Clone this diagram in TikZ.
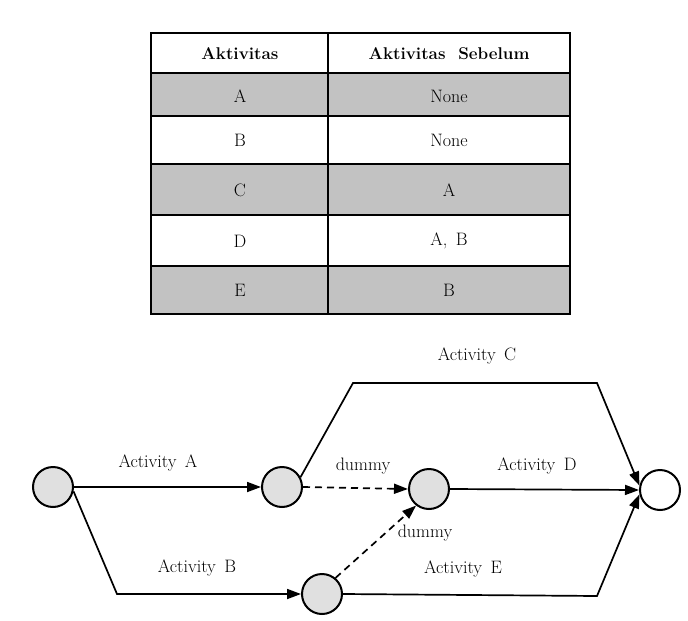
\documentclass[tikz,border=0pt]{standalone}
\usetikzlibrary{arrows.meta}
\begin{document}
\begin{tikzpicture}[x=1pt,y=-1pt,
  txt/.style={font=\fontsize{18}{21}\selectfont},
  hdr/.style={font=\fontsize{17}{20}\selectfont\bfseries},
  event/.style={circle,draw,line width=2pt,minimum size=40pt,inner sep=0pt,fill=black!12},
  lastevent/.style={circle,draw,line width=2pt,minimum size=40pt,inner sep=0pt,fill=white},
  act/.style={line width=1.7pt,-{Triangle[length=14pt,width=10pt]}},
  dum/.style={act,dash pattern=on 7pt off 5pt},
  shade/.style={fill=black!24}]
\useasboundingbox (0,0) rectangle (688,621);

% precedence table
\fill[shade] (151,73) rectangle (570,116);
\fill[shade] (151,164) rectangle (570,215);
\fill[shade] (151,266) rectangle (570,314);
\draw[line width=1.6pt] (151,73) -- (570,73) (151,116) -- (570,116)
  (151,164) -- (570,164) (151,215) -- (570,215) (151,266) -- (570,266)
  (328,33) -- (328,314);
\draw[line width=2.2pt] (151,33) rectangle (570,314);

\node[hdr] (h1) at (240,54) {Aktivitas};
\node[hdr] (h2) at (449,54) {Aktivitas\ \ Sebelum};
\node[txt] (ra1) at (240,96) {A};   \node[txt] (ra2) at (449,96) {None};
\node[txt] (rb1) at (240,140) {B};  \node[txt] (rb2) at (449,140) {None};
\node[txt] (rc1) at (240,190) {C};  \node[txt] (rc2) at (449,190) {A};
\node[txt] (rd1) at (240,241) {D};  \node[txt] (rd2) at (449,241) {A,\ \,B};
\node[txt] (re1) at (240,290) {E};  \node[txt] (re2) at (449,290) {B};

% activity-on-arrow network
\node[event] (n1) at (53,487) {};
\node[event] (n2) at (282,487) {};
\node[event] (n3) at (429,489) {};
\node[event] (n5) at (322,594) {};
\node[lastevent] (n6) at (660,490) {};

\coordinate (c1) at (353,383);
\coordinate (c2) at (597,383);
\coordinate (b1) at (117,594);
\coordinate (e1) at (597,596);

\draw[act] (n1.east) -- (n2.west);
\draw[act] (n1.-12) -- (b1) -- (n5.west);
\draw[act] (n2.28) -- (c1) -- (c2) -- (n6.168);
\draw[act] (n3.east) -- (n6.west);
\draw[act] (n5.east) -- (e1) -- (n6.192);
\draw[dum] (n2.east) -- (n3.west);
\draw[dum] (n5.50) -- (n3.232);

\node[txt] (la) at (158,463) {Activity\ \,A};
\node[txt] (lb) at (197,568) {Activity\ \,B};
\node[txt] (lc) at (477,356) {Activity\ \,C};
\node[txt] (ld) at (537,466) {Activity\ \,D};
\node[txt] (le) at (463,569) {Activity\ \,E};
\node[txt] (ld1) at (363,466) {dummy};
\node[txt] (ld2) at (425,533) {dummy};
\end{tikzpicture}
\end{document}
